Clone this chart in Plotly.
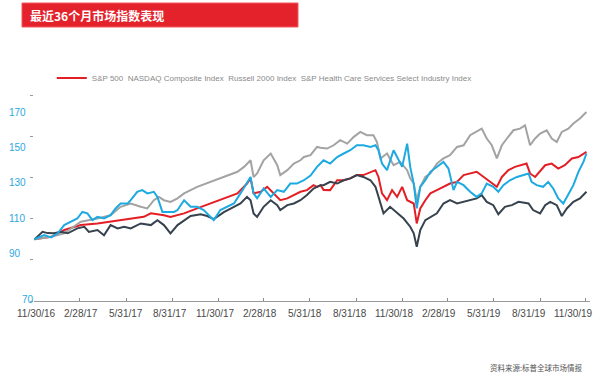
import pandas as pd
import plotly.graph_objects as go

START = pd.Timestamp("2016-11-30")

series_names = ["S&P 500", "NASDAQ Composite Index", "Russell 2000 Index",
                "S&P Health Care Services Select Industry Index"]

# day offsets from 2016-11-30 and index values (base 100)
sp500_days = [0, 33, 59, 92, 125, 151, 171, 191, 217, 231, 257, 270, 297, 323, 350, 376, 403, 422, 429, 435,
              449, 462, 475, 488, 502, 515, 528, 541, 554, 561, 568, 574, 587, 601, 614, 627, 640, 653, 667, 677,
              683, 690, 700, 710, 720, 730, 740, 753, 759, 766, 776, 786, 799, 812, 825, 839, 852, 878, 891, 905,
              918, 928, 941, 954, 967, 977, 984, 994, 1014, 1027, 1040, 1053, 1067, 1080, 1096]
sp500_vals = [100.0, 101.2, 104.5, 106.9, 107.7, 108.5, 109.3, 110.1, 110.9, 112.6, 111.7, 110.8, 112.6, 115.0,
              117.4, 119.9, 122.3, 127.1, 129.6, 122.3, 123.1, 125.5, 122.3, 119.0, 119.9, 121.5, 123.1, 123.9,
              126.3, 125.5, 126.3, 124.0, 123.9, 128.7, 128.7, 129.6, 131.2, 131.2, 132.8, 133.6, 130.3, 122.3,
              119.0, 123.9, 120.6, 125.5, 119.0, 117.4, 107.7, 115.0, 119.0, 122.3, 123.9, 125.5, 127.1, 127.9,
              131.2, 132.8, 130.3, 127.9, 125.5, 130.3, 133.6, 135.2, 136.0, 136.8, 132.0, 130.3, 136.0, 136.8,
              134.4, 136.0, 139.3, 140.0, 142.5]

nasdaq_days = [0, 33, 59, 92, 125, 151, 171, 191, 211, 224, 237, 247, 257, 270, 284, 297, 323, 350, 376, 403,
               416, 429, 435, 442, 455, 469, 482, 488, 502, 515, 528, 535, 548, 561, 568, 581, 594, 607, 621, 634,
               647, 660, 673, 680, 687, 700, 713, 726, 740, 746, 753, 759, 766, 776, 786, 799, 812, 825, 839, 852,
               865, 878, 888, 898, 908, 918, 928, 938, 951, 964, 974, 984, 994, 1004, 1017, 1027, 1037, 1047,
               1060, 1070, 1083, 1096]
nasdaq_vals = [100.0, 101.2, 102.9, 108.5, 110.1, 111.7, 115.8, 117.4, 115.8, 115.0, 119.0, 120.6, 119.0, 118.2,
               119.9, 122.3, 125.5, 127.9, 130.3, 132.8, 135.2, 138.4, 130.3, 132.0, 138.4, 141.7, 136.0, 131.2,
               133.6, 136.8, 138.4, 140.0, 140.9, 144.9, 144.5, 144.1, 145.7, 148.2, 146.5, 149.8, 152.2, 150.6,
               150.6, 147.3, 139.3, 141.7, 136.0, 137.6, 133.6, 129.6, 127.1, 119.0, 125.5, 130.3, 132.0, 136.8,
               139.3, 140.9, 144.9, 145.7, 150.6, 152.2, 153.8, 149.0, 145.7, 139.3, 145.7, 149.0, 153.0, 153.8,
               155.4, 145.7, 149.0, 151.4, 153.0, 149.0, 147.3, 152.2, 153.8, 156.3, 158.7, 161.9]

russell_days = [0, 16, 26, 39, 52, 66, 85, 99, 108, 125, 138, 151, 165, 178, 191, 211, 231, 244, 257, 270, 284,
                290, 310, 330, 343, 356, 376, 396, 409, 422, 429, 435, 442, 455, 469, 482, 488, 502, 515, 528,
                541, 554, 568, 574, 587, 601, 614, 627, 640, 653, 667, 677, 687, 693, 706, 720, 733, 746, 753,
                759, 766, 776, 786, 799, 812, 825, 839, 852, 878, 888, 898, 911, 921, 934, 948, 961, 981, 990,
                1004, 1014, 1024, 1037, 1047, 1057, 1070, 1083, 1093, 1096]
russell_vals = [100.0, 103.6, 103.0, 102.9, 103.6, 102.9, 105.3, 106.1, 103.6, 104.5, 102.0, 106.9, 105.3, 106.1,
                105.3, 107.7, 106.9, 109.3, 106.9, 102.9, 106.9, 107.9, 111.3, 112.2, 111.3, 109.8, 113.2, 115.8,
                117.4, 120.6, 119.0, 112.6, 110.9, 115.8, 119.0, 116.6, 114.2, 116.6, 117.4, 119.0, 121.5, 124.7,
                126.3, 126.3, 127.9, 127.1, 128.7, 129.6, 131.2, 130.3, 128.7, 125.5, 117.4, 112.6, 115.8, 112.6,
                110.1, 106.1, 102.9, 96.4, 104.5, 109.3, 110.9, 112.6, 117.4, 119.0, 117.4, 118.2, 119.9, 121.5,
                118.2, 116.6, 112.2, 115.8, 116.6, 118.2, 117.4, 114.2, 112.6, 116.6, 118.2, 116.6, 111.3, 115.0,
                118.2, 119.9, 122.3, 123.1]

hcs_days = [0, 19, 33, 46, 59, 72, 85, 95, 105, 115, 125, 138, 151, 161, 171, 185, 191, 204, 214, 224, 237, 244,
            254, 264, 277, 284, 297, 310, 323, 336, 350, 356, 369, 383, 396, 409, 422, 429, 435, 442, 455, 469,
            482, 495, 508, 521, 535, 548, 561, 574, 587, 601, 614, 627, 640, 653, 667, 677, 683, 690, 700, 713,
            720, 730, 740, 746, 753, 759, 766, 776, 786, 799, 812, 822, 832, 839, 852, 865, 878, 888, 898, 911,
            921, 931, 944, 958, 971, 981, 987, 997, 1010, 1020, 1030, 1040, 1050, 1060, 1070, 1080, 1090, 1096]
hcs_vals = [100.0, 102.0, 100.9, 102.9, 106.9, 108.5, 110.1, 113.3, 112.6, 109.3, 110.9, 110.1, 111.7, 115.0,
            117.4, 117.4, 119.0, 123.1, 123.9, 122.3, 123.1, 120.6, 113.3, 113.3, 113.3, 114.2, 119.0, 115.8,
            115.8, 114.2, 110.9, 109.3, 114.2, 115.8, 117.4, 122.3, 127.1, 130.3, 122.3, 119.9, 124.7, 120.6,
            123.9, 123.1, 127.1, 127.1, 128.7, 131.0, 135.2, 138.4, 136.8, 140.0, 141.7, 143.3, 145.7, 145.7,
            144.9, 145.7, 143.3, 136.8, 133.6, 143.3, 140.0, 135.2, 146.5, 135.2, 127.1, 115.0, 125.5, 128.7,
            132.8, 135.2, 137.6, 134.4, 123.9, 127.9, 126.3, 123.1, 120.6, 122.3, 127.1, 125.5, 123.1, 126.3,
            128.7, 130.3, 131.2, 132.0, 127.9, 126.3, 125.5, 127.9, 124.7, 119.9, 117.4, 121.5, 126.3, 132.8,
            137.6, 141.7]

tick_dates = ["2016-11-30", "2017-02-28", "2017-05-31", "2017-08-31", "2017-11-30", "2018-02-28", "2018-05-31",
              "2018-08-31", "2018-11-30", "2019-02-28", "2019-05-31", "2019-08-31", "2019-11-30"]
tick_labels = ["11/30/16", "2/28/17", "5/31/17", "8/31/17", "11/30/17", "2/28/18", "5/31/18",
               "8/31/18", "11/30/18", "2/28/19", "5/31/19", "8/31/19", "11/30/19"]
y_ticks = [70, 90, 110, 130, 150, 170]
y_tick_texts = ["170", "150", "130", "110", "90", "70"]

title_text = "最近36个月市场指数表现"
source_text = "资料来源:标普全球市场情报"

colors = {"S&P 500": "#E31E25", "NASDAQ Composite Index": "#A3A3A3",
          "Russell 2000 Index": "#36424E", "S&P Health Care Services Select Industry Index": "#1DA9E1"}


def to_dates(days):
    return START + pd.to_timedelta(days, unit="D")


data = [
    ("S&P 500", sp500_days, sp500_vals),
    ("NASDAQ Composite Index", nasdaq_days, nasdaq_vals),
    ("Russell 2000 Index", russell_days, russell_vals),
    ("S&P Health Care Services Select Industry Index", hcs_days, hcs_vals),
]

fig = go.Figure()
for name, d, v in data:
    fig.add_trace(go.Scatter(x=to_dates(d), y=v, mode="lines", name=name,
                             line=dict(color=colors[name], width=2), showlegend=False))

# legend entry as in the reference: single red sample followed by all series names
fig.add_trace(go.Scatter(x=[None], y=[None], mode="lines", line=dict(color=colors["S&P 500"], width=2),
                         name="  ".join(series_names), showlegend=True, hoverinfo="skip"))

fig.update_layout(
    width=600, height=377,
    margin=dict(l=34, r=10, t=85, b=76),
    paper_bgcolor="white", plot_bgcolor="white",
    font=dict(family="Liberation Sans, Arial, sans-serif"),
    legend=dict(orientation="h", x=0.032, xanchor="left", y=1.032, yanchor="middle",
                font=dict(size=8, color="#8a8a8a"), bgcolor="rgba(0,0,0,0)",
                itemwidth=30),
    xaxis=dict(type="date", range=["2016-11-29", "2019-12-08"], tickvals=tick_dates, showticklabels=False,
               showgrid=False, zeroline=False, showline=True, linecolor="#9a9a9a", linewidth=1,
               ticks="inside", ticklen=3, tickcolor="#8a8a8a"),
    yaxis=dict(range=[70, 175], tickvals=y_ticks, showticklabels=False, showgrid=False, zeroline=False,
               showline=False, ticks="outside", ticklen=3, tickcolor="#9a9a9a"),
)

# red title bar
fig.add_shape(type="rect", xref="paper", yref="paper", x0=-0.0216, x1=0.4748, y0=1.2685, y1=1.3796,
              fillcolor="#E4222B", line=dict(color="#F05A5F", width=1), layer="above")
fig.add_annotation(text="<b>" + title_text + "</b>", xref="paper", yref="paper", x=-0.011, y=1.324,
                   xanchor="left", yanchor="middle", showarrow=False,
                   font=dict(family="Noto Sans CJK SC", size=12, color="white"))

# y labels (as placed in the reference image)
label_y = [161.4, 144.4, 127.4, 110.3, 93.3, 70.5]
for txt, yv in zip(y_tick_texts, label_y):
    fig.add_annotation(text=txt, xref="paper", yref="y", x=(-0.0486 if txt != "70" else -0.0252), y=yv,
                       xanchor="left", yanchor="middle", showarrow=False,
                       font=dict(size=10, color="#2BA8E0"))

# x labels (evenly spread along the axis as in the reference image)
n = len(tick_labels)
for i, txt in enumerate(tick_labels):
    fig.add_annotation(text=txt, xref="paper", yref="paper", x=0.0036 + 0.9669 * i / (n - 1), y=-0.06,
                       xanchor="center", yanchor="middle", showarrow=False,
                       font=dict(size=10, color="#4a4a4a"))

fig.add_annotation(text=source_text, xref="paper", yref="paper", x=0.991, y=-0.31, xanchor="right",
                   yanchor="middle", showarrow=False,
                   font=dict(family="Noto Sans CJK SC", size=7.5, color="#555555"))

fig.write_html("out.html", config={"displayModeBar": False},
               post_script="document.body.style.margin='0';document.body.style.padding='0';")
